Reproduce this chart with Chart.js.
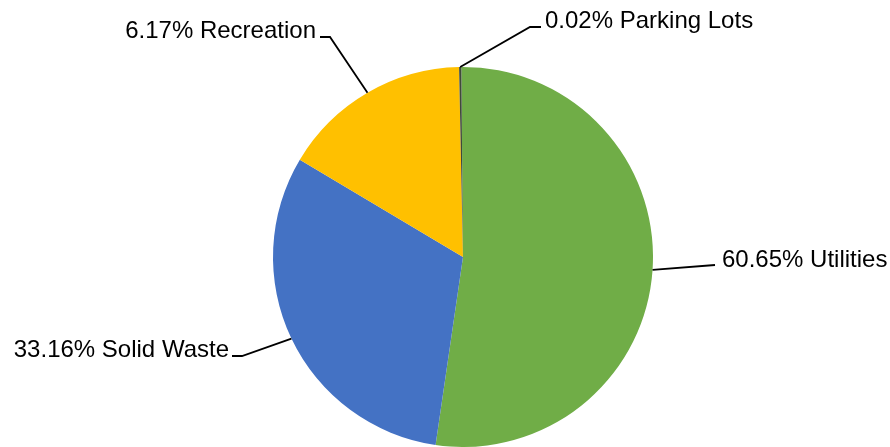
<!DOCTYPE html>
<html>
<head>
<meta charset="utf-8">
<script src="https://cdn.jsdelivr.net/npm/chart.js@4.4.1/dist/chart.umd.min.js"></script>
<style>
  html, body { margin: 0; padding: 0; background: #fff; }
  #wrap { width: 890px; height: 447px; }
</style>
</head>
<body>
<div id="wrap"><canvas id="pieChart" width="890" height="447"></canvas></div>
<script>
    // Categories and values
    var categories = ['Utilities', 'Solid Waste', 'Recreation', 'Parking Lots'];
    // share of the circle as drawn
    var sliceValues = [52.44, 31.25, 16.11, 0.19];
    // percent text as printed on the labels
    var labelPercents = ['60.65%', '33.16%', '6.17%', '0.02%'];
    var sliceColors = ['#70AD47', '#4472C4', '#FFC000', '#3F4A3A'];

    // label layout: elbow point, end of leader line, text anchor
    var labelLayout = [
        { elbow: [715, 265], end: [715, 265], tx: 722, ty: 267, align: 'left' },
        { elbow: [242, 356], end: [232, 356], tx: 229, ty: 357, align: 'right' },
        { elbow: [330, 37], end: [320, 37], tx: 316, ty: 38, align: 'right' },
        { elbow: [530, 27], end: [541, 27], tx: 545, ty: 28, align: 'left' }
    ];

    // Plugin vẽ nhãn có đường dẫn
    var leaderLabels = {
        id: 'leaderLabels',
        afterDatasetsDraw: function (chart) {
            var ctx = chart.ctx;
            var arcs = chart.getDatasetMeta(0).data;
            ctx.save();
            ctx.strokeStyle = '#000';
            ctx.lineWidth = 1.8;
            ctx.fillStyle = '#000';
            ctx.font = '24px "Liberation Sans", Arial, sans-serif';
            ctx.textBaseline = 'alphabetic';
            arcs.forEach(function (arc, i) {
                var p = arc.getProps(['x', 'y', 'startAngle', 'endAngle', 'outerRadius'], true);
                var mid = (p.startAngle + p.endAngle) / 2;
                var sx = p.x + Math.cos(mid) * p.outerRadius;
                var sy = p.y + Math.sin(mid) * p.outerRadius;
                var lay = labelLayout[i];
                ctx.beginPath();
                ctx.moveTo(sx, sy);
                ctx.lineTo(lay.elbow[0], lay.elbow[1]);
                ctx.lineTo(lay.end[0], lay.end[1]);
                ctx.stroke();
                ctx.textAlign = lay.align;
                ctx.fillText(labelPercents[i] + ' ' + categories[i], lay.tx, lay.ty);
            });
            ctx.restore();
        }
    };

    var ctx1 = document.getElementById('pieChart').getContext('2d');
    var pieChart = new Chart(ctx1, {
        type: 'pie',
        data: {
            labels: categories,
            datasets: [{
                data: sliceValues,
                backgroundColor: sliceColors,
                borderWidth: 0,
                hoverOffset: 0,
                offset: 0
            }]
        },
        options: {
            responsive: false,
            animation: false,
            rotation: -0.5,
            layout: { padding: { top: 67, bottom: 0, left: 36, right: 0 } },
            plugins: {
                legend: { display: false },
                tooltip: { enabled: false }
            }
        },
        plugins: [leaderLabels]
    });
</script>
</body>
</html>
